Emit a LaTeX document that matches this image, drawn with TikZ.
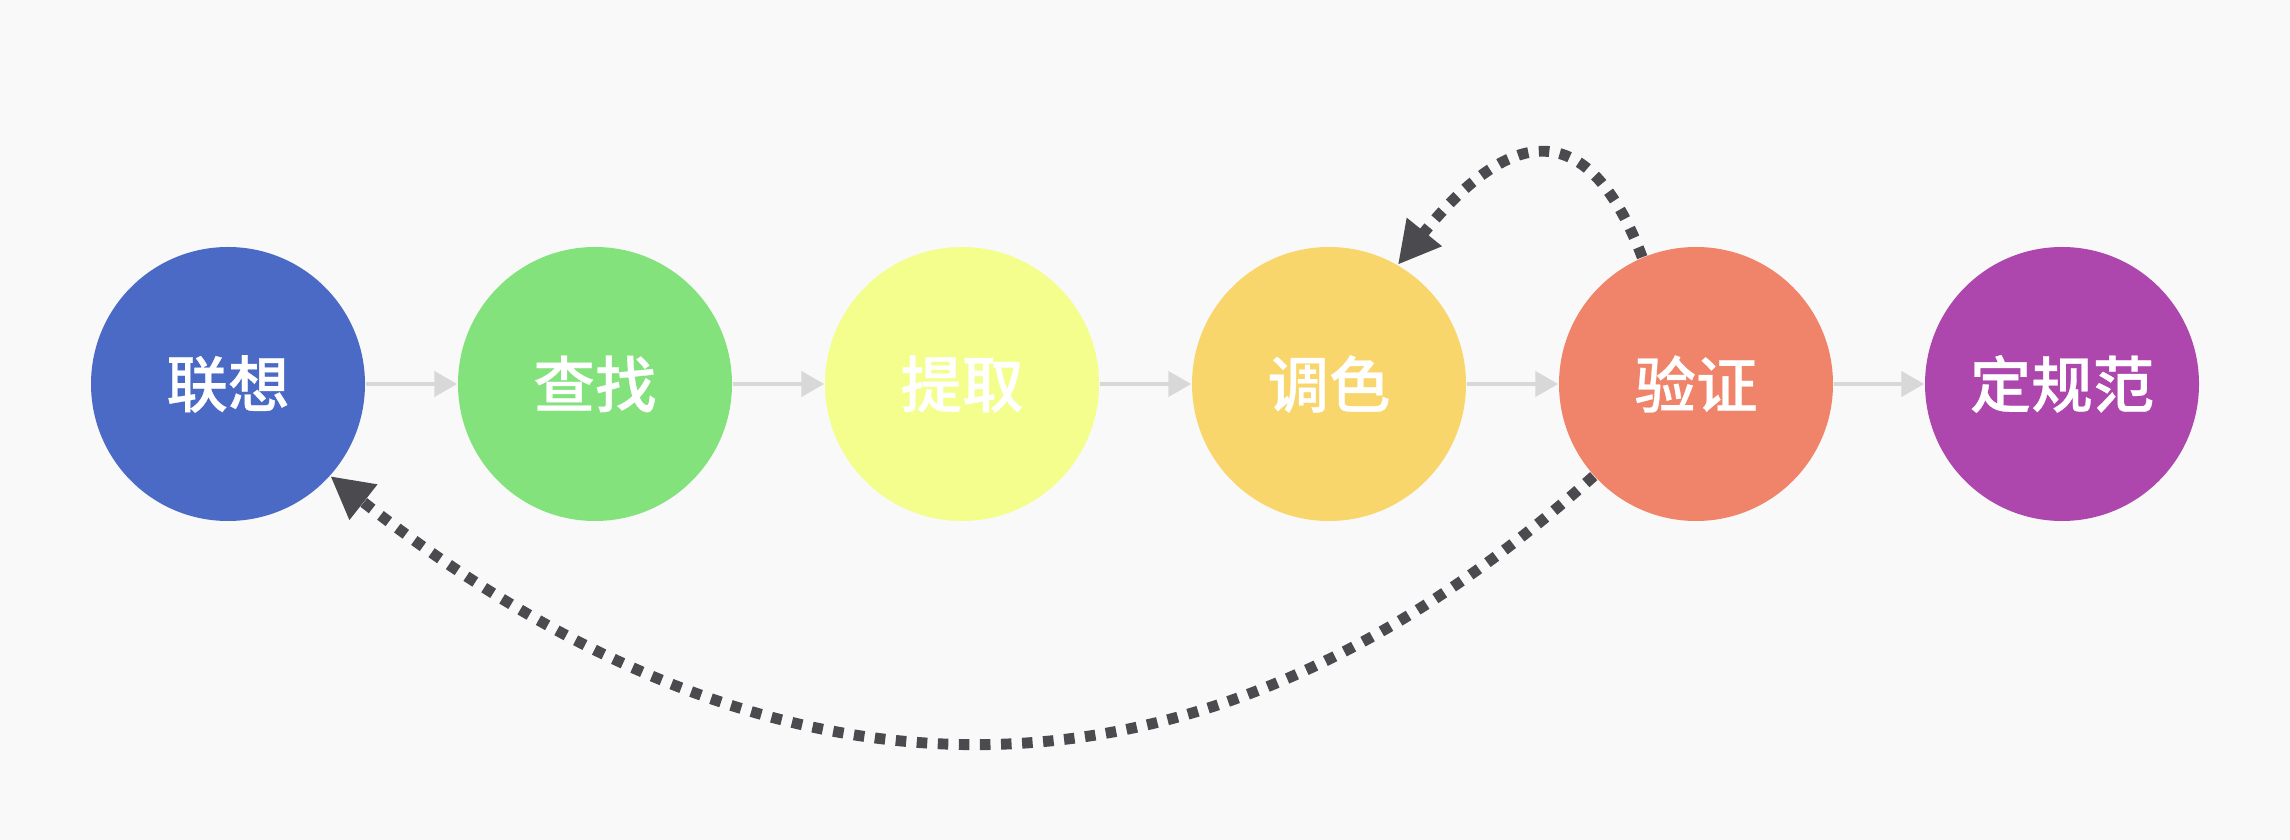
\documentclass[tikz,border=0pt]{standalone}
\usepackage{fontspec}
\newfontfamily\cjk[FakeBold=0.5]{Noto Sans CJK SC Medium}
\usetikzlibrary{arrows.meta}
\definecolor{bg}{HTML}{F9F9F9}
\definecolor{c1}{HTML}{4A6AC5}
\definecolor{c2}{HTML}{83E27B}
\definecolor{c3}{HTML}{F4FE8C}
\definecolor{c4}{HTML}{F8D66B}
\definecolor{c5}{HTML}{EF846A}
\definecolor{c6}{HTML}{AD47AD}
\definecolor{flowgray}{HTML}{D8D8D8}
\definecolor{loopgray}{HTML}{4A4A4F}
\begin{document}
\begin{tikzpicture}[x=0.1mm,y=-0.1mm,
  stage/.style={circle, minimum size=27.4mm, inner sep=0pt, text=white,
    font=\cjk\fontsize{17.5}{20}\selectfont},
  flow/.style={draw=flowgray, line width=1.4pt, -{Triangle[length=6.5pt,width=7pt]}},
  loopback/.style={draw=loopgray, line width=3.1pt, dash pattern=on 3pt off 3pt,
    -{Triangle[length=12pt,width=12pt]}}]
\fill[bg] (0,0) rectangle (2290,840);
\node[stage, fill=c1] (a) at (228,384) {联想};
\node[stage, fill=c2] (b) at (595,384) {查找};
\node[stage, fill=c3] (c) at (962,384) {提取};
\node[stage, fill=c4] (d) at (1329,384) {调色};
\node[stage, fill=c5] (e) at (1696,384) {验证};
\node[stage, fill=c6] (f) at (2062,384) {定规范};
\draw[flow] (a) -- (b);
\draw[flow] (b) -- (c);
\draw[flow] (c) -- (d);
\draw[flow] (d) -- (e);
\draw[flow] (e) -- (f);
\draw[loopback] (e.113) .. controls (1590,120) and (1515,120) .. (d.60);
\draw[loopback] (e.222) .. controls (1200,830) and (780,830) .. (a.-42);
\end{tikzpicture}
\end{document}
